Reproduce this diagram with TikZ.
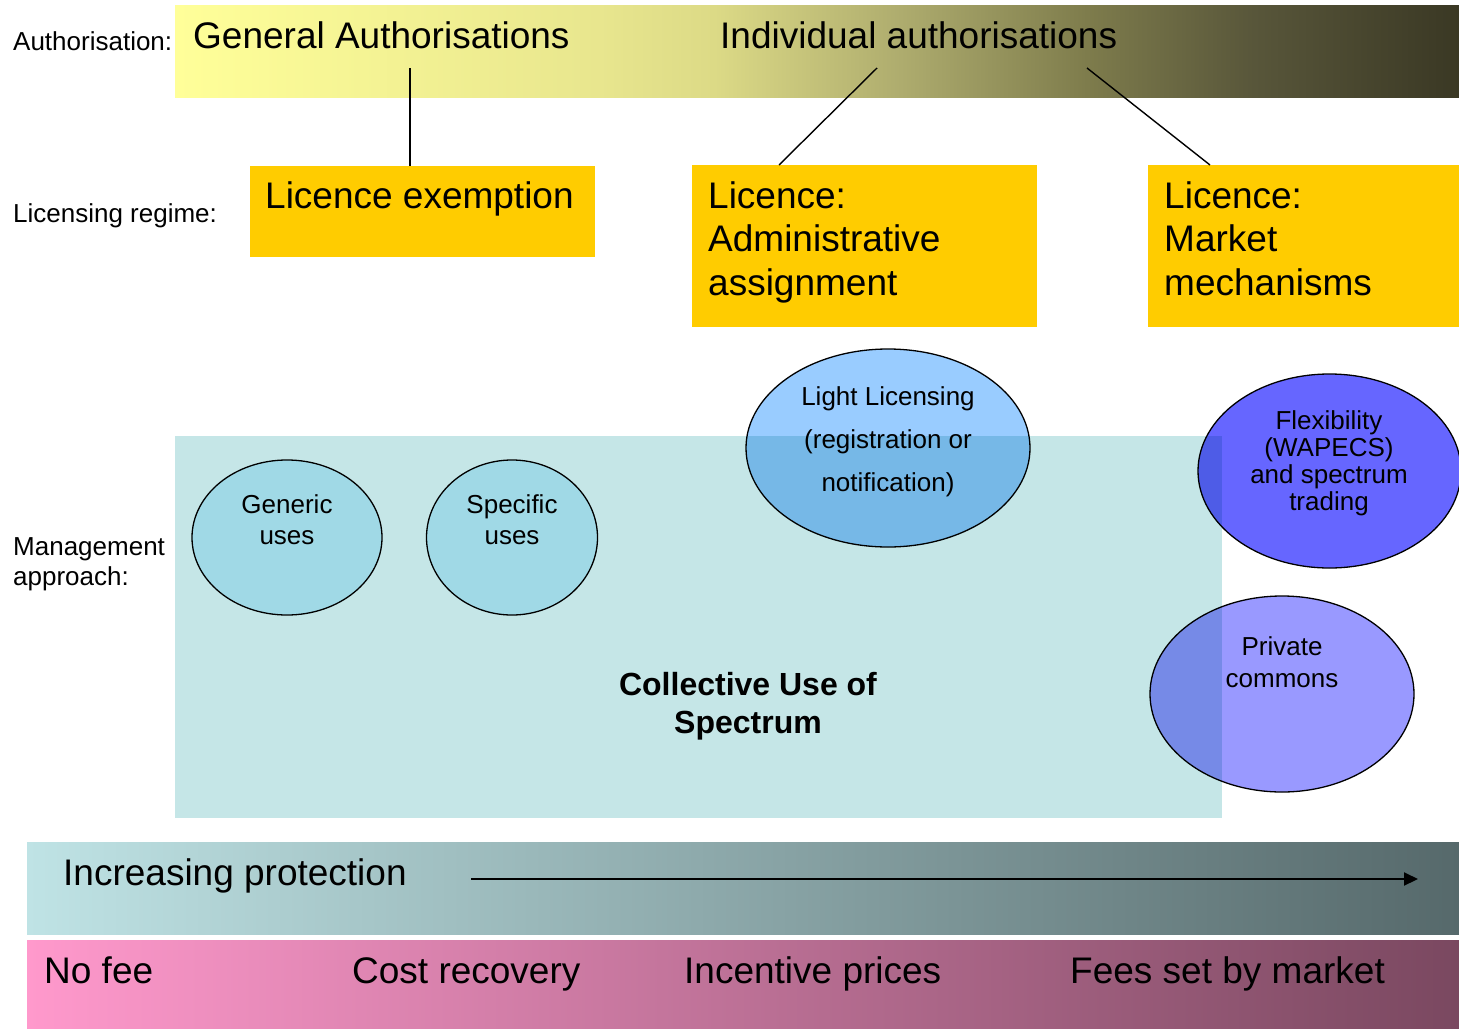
\documentclass[tikz,border=0pt]{standalone}
\usepackage{fontspec}
\setmainfont{Liberation Sans}
\usetikzlibrary{shapes.geometric,arrows.meta}

\definecolor{licgold}{HTML}{FFCC00}
\definecolor{collteal}{HTML}{C5E6E7}
\definecolor{usecyan}{HTML}{A0D9E6}
\definecolor{lightblue}{HTML}{99CCFF}
\definecolor{flexblue}{HTML}{6666FF}
\definecolor{privblue}{HTML}{9999FF}
\definecolor{protleft}{HTML}{BFE3E5}
\definecolor{protright}{HTML}{56696B}
\definecolor{feeleft}{HTML}{FF99CC}
\definecolor{feeright}{HTML}{7A4860}
\definecolor{authA}{HTML}{FFFF99}
\definecolor{authB}{HTML}{E8E68E}
\definecolor{authC}{HTML}{DCDA86}
\definecolor{authD}{HTML}{AEAC6E}
\definecolor{authE}{HTML}{7E7C4C}
\definecolor{authF}{HTML}{58563A}
\definecolor{authG}{HTML}{3A3824}

\pgfdeclarehorizontalshading{authshade}{100bp}{color(0bp)=(authA); color(25bp)=(authA);
  color(41.5bp)=(authB); color(46bp)=(authC); color(53.25bp)=(authD);
  color(60.5bp)=(authE); color(67bp)=(authF); color(75bp)=(authG); color(100bp)=(authG)}

\newcommand{\bigtxt}{\fontsize{37}{43.5}\selectfont}
\newcommand{\smalltxt}{\fontsize{26}{30}\selectfont}

\tikzset{
  band/.style={inner sep=0pt, anchor=north west, minimum width=1432pt},
  licbox/.style={fill=licgold, inner sep=0pt, anchor=north west},
  useell/.style={ellipse, draw, line width=1.3pt, inner sep=0pt},
  bigtext/.style={font=\bigtxt, inner sep=0pt, anchor=base west},
  smalltext/.style={font=\smalltxt, inner sep=0pt, anchor=base west},
  elltext/.style={inner sep=0pt, anchor=base, align=center},
  link/.style={line width=1.4pt},
}

\begin{document}
\begin{tikzpicture}[x=1pt,y=-1pt]
   \useasboundingbox[fill=white] (0,0) rectangle (1459,1028);
   % authorisation row
   \node[band, minimum width=1284pt, minimum height=92pt, shade, shading=authshade] (authbar) at (175,5) {};
   \node[smalltext] (authlbl) at (13,50) {Authorisation:};
   \node[bigtext] (genauth) at (193,48) {General Authorisations};
   \node[bigtext] (indauth) at (720,48) {Individual authorisations};
   % licensing regime row (multi-line texts sit on their last baseline)
   \node[smalltext] (reglbl) at (13,222) {Licensing regime:};
   \node[licbox, minimum width=345pt, minimum height=91pt] (exempt) at (250,166) {};
   \node[licbox, minimum width=345pt, minimum height=162pt] (admin) at (692,165) {};
   \node[licbox, minimum width=311pt, minimum height=162pt] (market) at (1148,165) {};
   \node[bigtext] (exempttxt) at (265,208) {Licence exemption};
   \node[bigtext, align=left] (admintxt) at (708,295) {Licence:\\Administrative\\assignment};
   \node[bigtext, align=left] (markettxt) at (1164,295) {Licence:\\Market\\mechanisms};
   \coordinate (genfoot) at (410,68);
   \coordinate (indleft) at (877,68);
   \coordinate (indright) at (1087,68);
   \draw[link] (genfoot) -- (genfoot |- exempt.north);
   \draw[link] (indleft) -- ([xshift=87pt]admin.north west);
   \draw[link] (indright) -- ([xshift=62pt]market.north west);
   % management approach
   \node[smalltext, align=left] (mgmtlbl) at (13,585) {Management\\approach:};
   \node[useell, fill=lightblue, minimum width=284pt, minimum height=198pt] (light) at (888,448) {};
   \node[useell, fill=flexblue, minimum width=263pt, minimum height=194pt] (flex) at (1329.5,471) {};
   \node[useell, fill=privblue, minimum width=264pt, minimum height=196pt] (private) at (1282,694) {};
   \begin{scope}[blend mode=multiply]
     \node[fill=collteal, inner sep=0pt, anchor=north west, minimum width=1047pt, minimum height=382pt] (coll) at (175,436) {};
   \end{scope}
   \node[useell, fill=usecyan, minimum width=190pt, minimum height=155pt] (generic) at (287,537.5) {};
   \node[useell, fill=usecyan, minimum width=171pt, minimum height=155pt] (specific) at (512,537.5) {};
   \node[elltext, font=\fontsize{26}{31}\selectfont] (generictxt) at (287,544) {Generic\\uses};
   \node[elltext, font=\fontsize{26}{31}\selectfont] (specifictxt) at (512,544) {Specific\\uses};
   \node[elltext, font=\fontsize{26}{43}\selectfont] (lighttxt) at (888,491) {Light Licensing\\(registration or\\notification)};
   \node[elltext, font=\fontsize{26}{26.7}\selectfont] (flextxt) at (1329,510) {Flexibility\\(WAPECS)\\and spectrum\\trading};
   \node[elltext, font=\fontsize{26}{31.7}\selectfont] (privatetxt) at (1282,687) {Private\\commons};
   \node[elltext, font=\fontsize{32}{38}\selectfont\bfseries] (colltxt) at (748,733) {Collective Use of\\Spectrum};
   % protection and fees
   \node[band, minimum height=92pt, left color=protleft, right color=protright] (protbar) at (27,842) {};
   \node[band, minimum height=88pt, left color=feeleft, right color=feeright] (feebar) at (27,940) {};
   \node[bigtext] (prottxt) at (63,885) {Increasing protection};
   \coordinate (arrowtail) at (471,879);
   \coordinate (arrowtip) at (1418,879);
   \draw[-{Triangle[length=14pt,width=13pt]}, line width=2pt] (arrowtail) -- (arrowtip);
   \node[bigtext] (nofee) at (44,983) {No fee};
   \node[bigtext] (costrec) at (352,983) {Cost recovery};
   \node[bigtext] (incent) at (684,983) {Incentive prices};
   \node[bigtext] (marketfee) at (1070,983) {Fees set by market};
\end{tikzpicture}
\end{document}
